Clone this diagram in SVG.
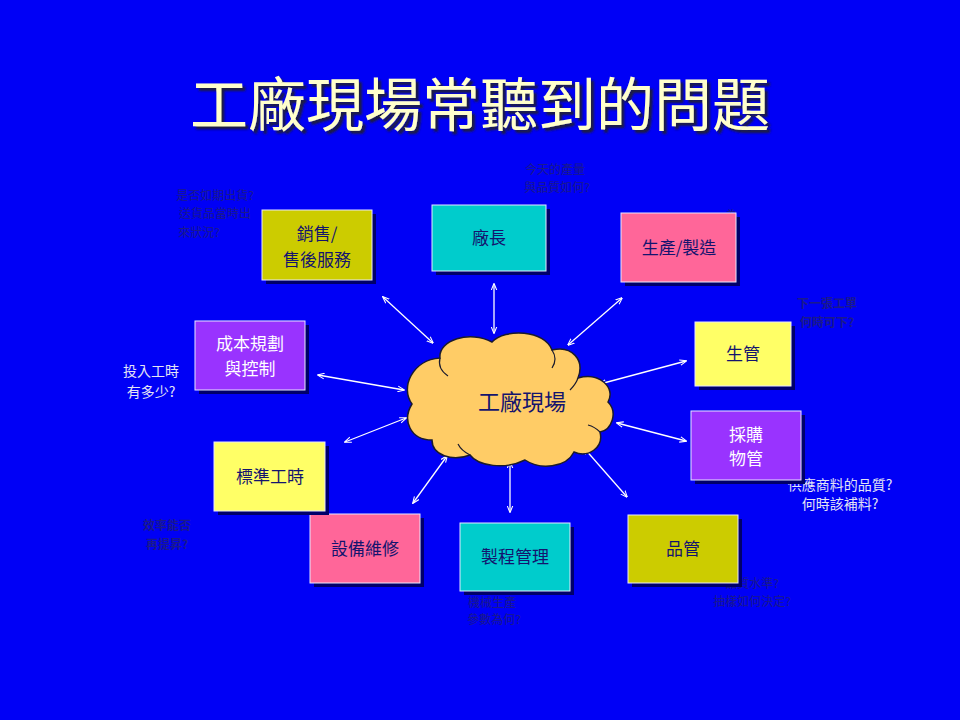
<svg xmlns="http://www.w3.org/2000/svg" width="960" height="720" viewBox="0 0 960 720">
<defs>
<marker id="ah" viewBox="0 0 10 10" refX="9" refY="5" markerWidth="7" markerHeight="7" orient="auto-start-reverse" markerUnits="userSpaceOnUse">
<path d="M0,1 L10,5 L0,9" fill="none" stroke="#ffffff" stroke-width="1.5"/>
</marker>
<filter id="tsh" x="-5%" y="-20%" width="110%" height="140%">
<feDropShadow dx="3" dy="3" stdDeviation="0.8" flood-color="#1a1a40" flood-opacity="1"/>
</filter>
<style>
.bg{fill:#0000f6}
.sh{fill:#00006a}
.bx{stroke:#e8e8ff;stroke-width:1}
.t{font-family:"Noto Sans CJK TC","Noto Sans CJK SC",sans-serif;text-anchor:middle}
.bt{font-size:17px;fill:#14146e}
.wt{font-size:17px;fill:#ffffff}
.dn{font-size:12px;fill:#1a1a8c}
.ln{font-size:14px;fill:#e4e4f4}
.ar{stroke:#ffffff;stroke-width:1.3;marker-start:url(#ah);marker-end:url(#ah)}
</style>
</defs>
<rect class="bg" x="0" y="0" width="960" height="720"/>

<g id="title">
<text class="t" x="480" y="126" font-size="58" fill="#ffffcc" filter="url(#tsh)">工廠現場常聽到的問題</text>
</g>

<g id="notes">
<text class="t dn" x="215" y="200">是否如期出貨?</text>
<text class="t dn" x="215" y="218">送貨品當時出</text>
<text class="t dn" x="199" y="237">來狀況?</text>
<text class="t dn" x="555" y="174">今天的產量</text>
<text class="t dn" x="557" y="192">與品質如何?</text>
<text class="t dn" x="827" y="308" font-weight="bold">下一張工單</text>
<text class="t dn" x="827" y="327" font-weight="bold">何時可下?</text>
<text class="t ln" x="151" y="376">投入工時</text>
<text class="t ln" x="151" y="397">有多少?</text>
<text class="t ln" x="840" y="490">供應商料的品質?</text>
<text class="t ln" x="840" y="509">何時該補料?</text>
<text class="t dn" x="167" y="530" font-weight="bold">效率能否</text>
<text class="t dn" x="167" y="549" font-weight="bold">再提昇?</text>
<text class="t dn" x="492" y="607">機械生產</text>
<text class="t dn" x="494" y="624">參數為何?</text>
<text class="t dn" x="752" y="588">品質水準?</text>
<text class="t dn" x="752" y="606">抽樣如何決定?</text>
<text class="t dn" x="316" y="582">?</text>
<text class="t dn" x="732" y="220">為</text>
</g>

<g id="connectors">
<line class="ar" x1="383" y1="297" x2="433" y2="343"/>
<line class="ar" x1="494" y1="284" x2="494" y2="333"/>
<line class="ar" x1="622" y1="298" x2="568" y2="345"/>
<line class="ar" x1="686" y1="361" x2="600" y2="384"/>
<line class="ar" x1="686" y1="441" x2="617" y2="423"/>
<line class="ar" x1="627" y1="497" x2="584" y2="448"/>
<line class="ar" x1="510" y1="462" x2="510" y2="512"/>
<line class="ar" x1="447" y1="456" x2="413" y2="503"/>
<line class="ar" x1="406" y1="418" x2="345" y2="442"/>
<line class="ar" x1="318" y1="375" x2="404" y2="390"/>
</g>

<g id="cloud">
<path d="M432,440 C410,440 402,420 412,404 C400,388 412,360 440,358 C438,340 470,330 492,342 C505,328 545,330 552,350 C572,345 585,360 578,378 C600,372 616,388 608,402 C618,412 612,430 600,432 C604,448 588,458 574,452 C566,468 540,470 525,460 C505,470 478,466 470,455 C452,462 432,455 432,440 Z" fill="#ffcc66" stroke="#1a1a2e" stroke-width="1.5"/>
<path d="M440,358 C438,366 442,372 448,376" fill="none" stroke="#1a1a2e" stroke-width="1.2"/>
<path d="M552,350 C556,356 556,362 552,368" fill="none" stroke="#1a1a2e" stroke-width="1.2"/>
<path d="M578,378 C576,384 574,386 570,390" fill="none" stroke="#1a1a2e" stroke-width="1.2"/>
<path d="M600,432 C596,428 592,426 588,425" fill="none" stroke="#1a1a2e" stroke-width="1.2"/>
<path d="M470,455 C464,452 460,448 458,444" fill="none" stroke="#1a1a2e" stroke-width="1.2"/>
<text class="t" x="522" y="410" font-size="22" fill="#14146e">工廠現場</text>
</g>

<g id="n-sales">
<rect class="sh" x="266" y="214" width="110" height="70"/>
<rect class="bx" x="262" y="210" width="110" height="70" fill="#cccc00"/>
<text class="t bt" x="317" y="240">銷售/</text>
<text class="t bt" x="317" y="266">售後服務</text>
</g>
<g id="n-director">
<rect class="sh" x="436" y="209" width="114" height="66"/>
<rect class="bx" x="432" y="205" width="114" height="66" fill="#00cccc"/>
<text class="t bt" x="489" y="244">廠長</text>
</g>
<g id="n-production">
<rect class="sh" x="625" y="217" width="115" height="69"/>
<rect class="bx" x="621" y="213" width="115" height="69" fill="#ff6699"/>
<text class="t bt" x="679" y="254" fill="#2a2aa8">生產/製造</text>
</g>
<g id="n-planning">
<rect class="sh" x="699" y="326" width="96" height="64"/>
<rect class="bx" x="695" y="322" width="96" height="64" fill="#ffff66"/>
<text class="t bt" x="743" y="360">生管</text>
</g>
<g id="n-purchase">
<rect class="sh" x="695" y="415" width="110" height="69"/>
<rect class="bx" x="691" y="411" width="110" height="69" fill="#9933ff"/>
<text class="t wt" x="746" y="441">採購</text>
<text class="t wt" x="746" y="465">物管</text>
</g>
<g id="n-quality">
<rect class="sh" x="632" y="519" width="110" height="68"/>
<rect class="bx" x="628" y="515" width="110" height="68" fill="#cccc00"/>
<text class="t bt" x="683" y="555">品管</text>
</g>
<g id="n-process">
<rect class="sh" x="464" y="527" width="110" height="68"/>
<rect class="bx" x="460" y="523" width="110" height="68" fill="#00cccc"/>
<text class="t bt" x="515" y="563">製程管理</text>
</g>
<g id="n-maintenance">
<rect class="sh" x="314" y="518" width="110" height="69"/>
<rect class="bx" x="310" y="514" width="110" height="69" fill="#ff6699"/>
<text class="t bt" x="365" y="555">設備維修</text>
</g>
<g id="n-stdtime">
<rect class="sh" x="218" y="446" width="111" height="69"/>
<rect class="bx" x="214" y="442" width="111" height="69" fill="#ffff66"/>
<text class="t bt" x="270" y="483">標準工時</text>
</g>
<g id="n-cost">
<rect class="sh" x="199" y="325" width="110" height="69"/>
<rect class="bx" x="195" y="321" width="110" height="69" fill="#9933ff"/>
<text class="t wt" x="250" y="350">成本規劃</text>
<text class="t wt" x="250" y="375">與控制</text>
</g>
</svg>
